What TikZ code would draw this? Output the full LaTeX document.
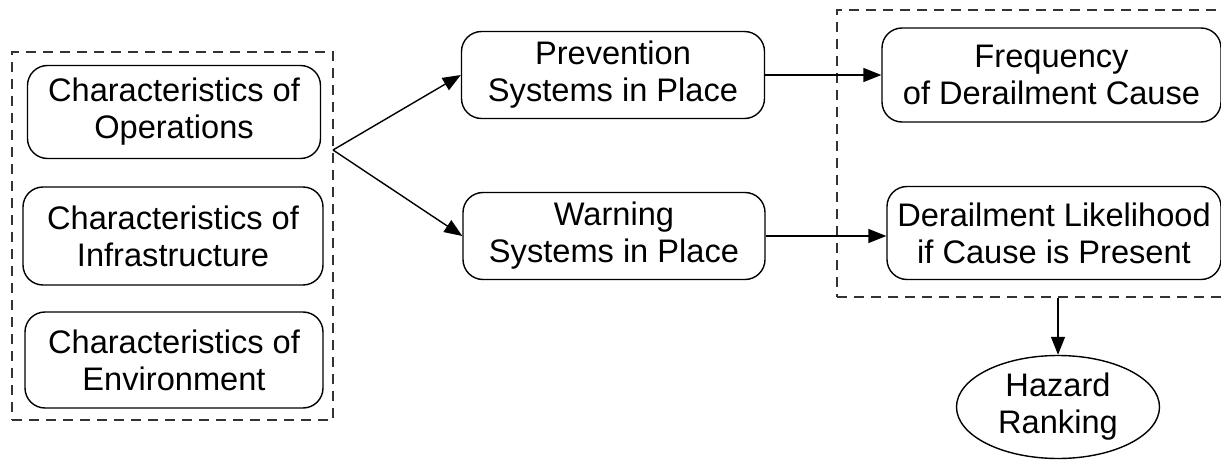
\documentclass[tikz,border=0pt]{standalone}
\usepackage{fontspec}
\setmainfont{Liberation Sans}
\usepackage{tikz}
\usetikzlibrary{shapes.geometric, arrows.meta, positioning}

\begin{document}
\begin{tikzpicture}[x=1pt, y=1pt]
    \tikzset{
        box/.style={rectangle, draw=black, line width=0.7pt, align=center, rounded corners=10pt, font=\fontsize{16.3}{18.5}\selectfont, inner sep=0pt},
        rankbox/.style={ellipse, draw=black, line width=0.7pt, align=center, font=\fontsize{16.3}{18.5}\selectfont, inner sep=0pt},
        group/.style={rectangle, draw=black!80, line width=0.7pt, dash pattern=on 5pt off 3.5pt},
        arrow/.style={draw=black, line width=0.7pt, -{Triangle[length=9pt, width=7pt]}}
    }
    \useasboundingbox (0,0) rectangle (610.5,-230);

    % input groups
    \node [group, minimum width=160.5pt, minimum height=184pt] (leftgrp) at (86.25,-118) {};
    \node [group, minimum width=201.5pt, minimum height=143.5pt] (rightgrp) at (519.25,-76.75) {};

    \node [box, minimum width=146.5pt, minimum height=46.5pt] (ops) at (87,-56) {Characteristics of\\Operations};
    \node [box, minimum width=150pt, minimum height=49pt] (infra) at (86.5,-118) {Characteristics of\\Infrastructure};
    \node [box, minimum width=149pt, minimum height=48pt] (env) at (87,-180) {Characteristics of\\Environment};

    \node [box, minimum width=151.5pt, minimum height=43.5pt] (prev) at (306.5,-37.5) {Prevention\\Systems in Place};
    \node [box, minimum width=151pt, minimum height=43.5pt] (warn) at (307,-118) {Warning\\Systems in Place};

    \node [box, minimum width=169.5pt, minimum height=47pt] (freq) at (525.75,-37.5) {Frequency\\of Derailment Cause};
    \node [box, minimum width=167pt, minimum height=46.5pt] (like) at (527,-116.5) {Derailment Likelihood\\if Cause is Present};

    \node [rankbox, minimum width=101.5pt, minimum height=51.5pt] (rank) at (529,-203.5) {Hazard\\Ranking};

    \coordinate (fork) at (166.5,-75);

    \draw [arrow] (fork) -- (prev.west);
    \draw [arrow] (fork) -- (warn.west);
    \draw [arrow] (prev.east) -- (freq.west);
    \draw [arrow] (warn.east) -- (warn.east -| like.west);
    \draw [arrow] (rightgrp.south -| rank.north) -- (rank.north);
\end{tikzpicture}
\end{document}
